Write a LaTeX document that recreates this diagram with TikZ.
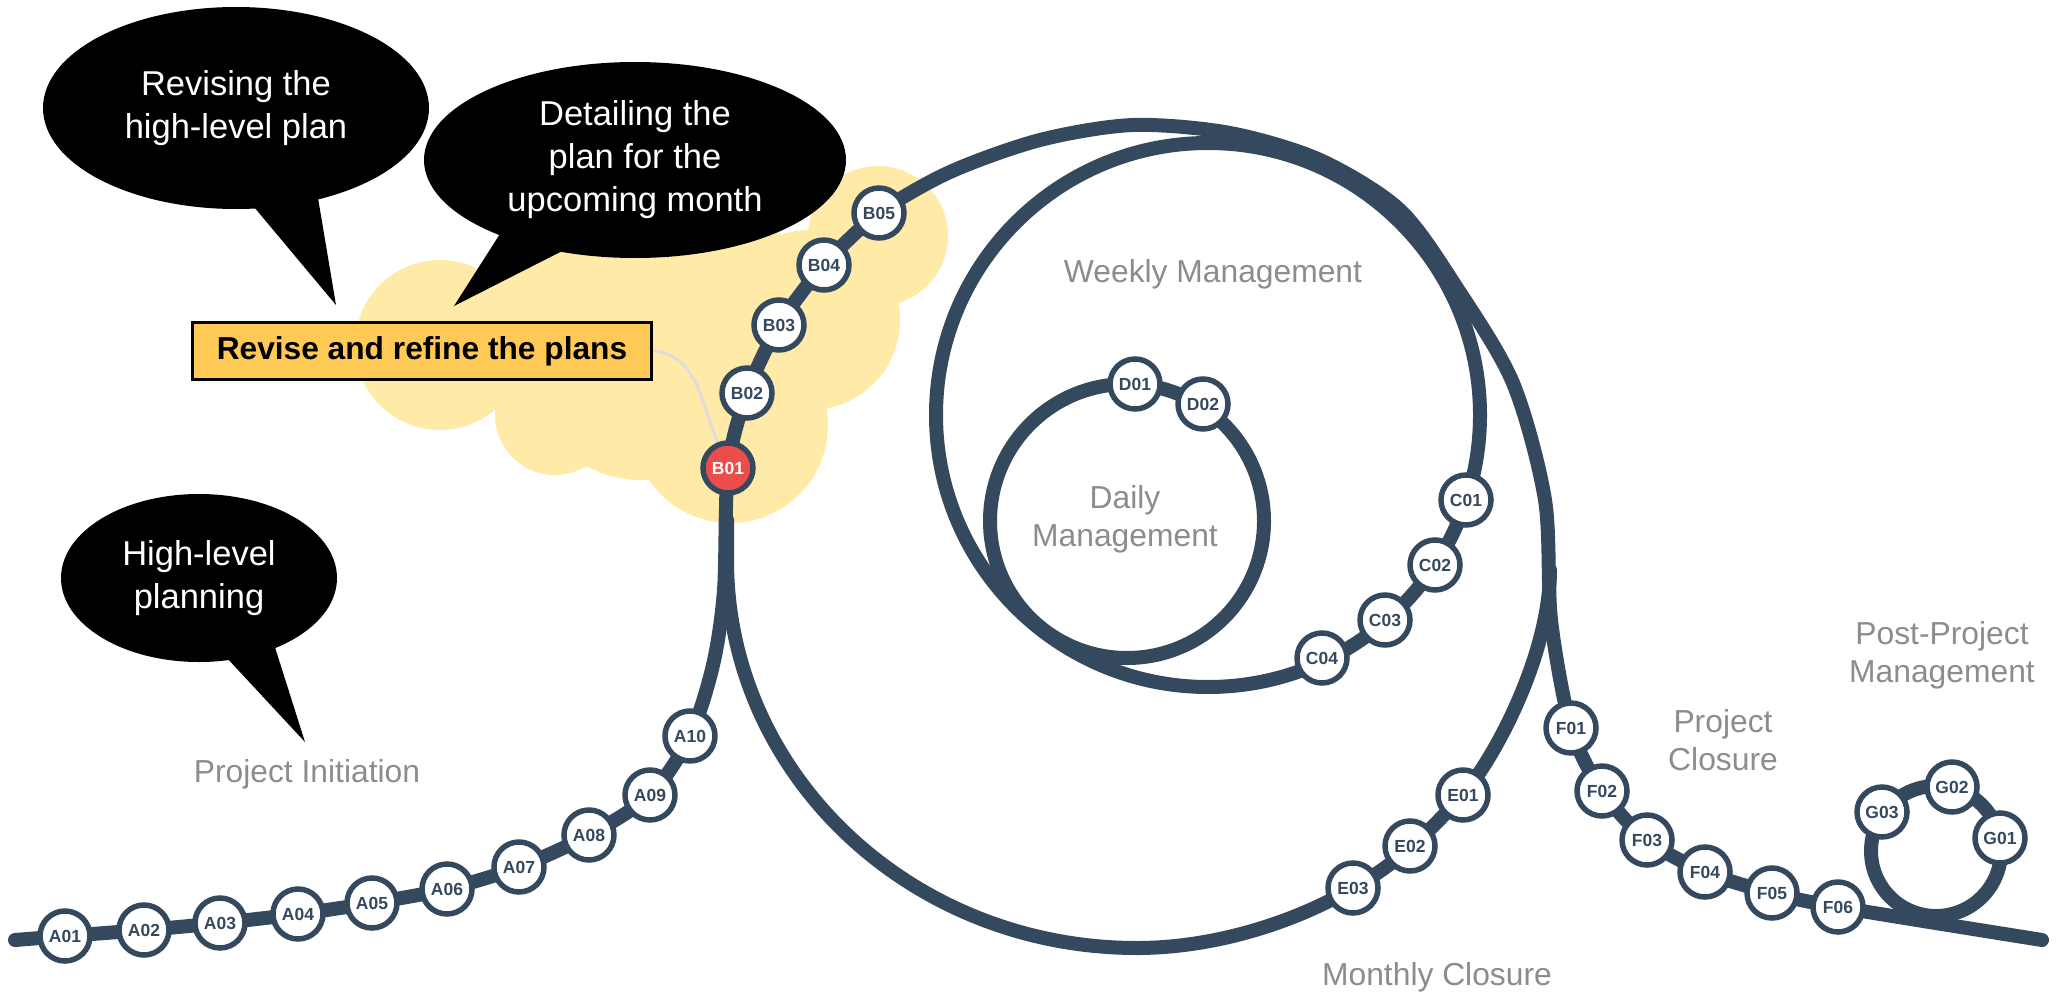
\documentclass[tikz,border=0pt]{standalone}
\usepackage{fontspec}
\setmainfont{Liberation Sans}
\usetikzlibrary{shapes.geometric}
\definecolor{planSlate}{HTML}{34495E}
\definecolor{planRed}{HTML}{EB4D4B}
\definecolor{planSand}{HTML}{FFEAA8}
\definecolor{planGold}{HTML}{FFC955}
\definecolor{planGrey}{HTML}{8C8C8C}
\definecolor{planMist}{HTML}{DDDDDD}
\pgfdeclarelayer{cloudlayer}
\pgfdeclarelayer{tracklayer}
\pgfsetlayers{cloudlayer,tracklayer,main}
\tikzset{
  stn/.style={circle, draw=planSlate, line width=5.5pt, fill=white, minimum size=50pt, inner sep=0pt, text=planSlate, font=\fontsize{17.5}{20}\selectfont\bfseries},
  stnstart/.style={stn, fill=planRed, text=white},
  track/.style={draw=planSlate, line width=14pt, line cap=round, line join=round},
  bubble/.style={ellipse, fill=black, text=white, align=center, inner sep=0pt, font=\fontsize{34.5}{43}\selectfont},
  phase/.style={text=planGrey, align=center, inner sep=0pt, font=\fontsize{31.8}{38}\selectfont},
  taskbox/.style={rectangle, draw=black, line width=3.5pt, fill=planGold, minimum width=459pt, minimum height=57pt, inner sep=0pt, font=\fontsize{31.7}{38}\selectfont\bfseries},
  puff/.style={fill=planSand},
  softline/.style={draw=planMist, line width=3pt}
}

\begin{document}
\begin{tikzpicture}[x=1pt, y=-1pt]
  \useasboundingbox (0,0) rectangle (2056,1001);

  % cloud behind the planning stations
  \begin{pgfonlayer}{cloudlayer}
    \fill[puff] (440,345) circle[radius=85pt];
    \fill[puff] (545,300) circle[radius=65pt];
    \fill[puff] (612,275) circle[radius=42pt];
    \fill[puff] (700,285) circle[radius=95pt];
    \fill[puff] (878,236) circle[radius=70pt];
    \fill[puff] (810,320) circle[radius=90pt];
    \fill[puff] (730,425) circle[radius=98pt];
    \fill[puff] (555,415) circle[radius=60pt];
    \fill[puff] (640,370) circle[radius=110pt];
  \end{pgfonlayer}

  % speech bubbles
  \node[bubble, minimum width=386pt, minimum height=202pt] (reviseBub) at (236,108) {Revising the\\high-level plan};
  \coordinate (reviseTip) at (336,305);
  \fill (244,195) -- (reviseTip) -- (316,186) -- cycle;
  \node[bubble, minimum width=422pt, minimum height=196pt] (detailBub) at (635,160) {Detailing the\\plan for the\\upcoming month};
  \coordinate (detailTip) at (454,306);
  \fill (505,226) -- (detailTip) -- (576,244) -- cycle;
  \node[bubble, minimum width=276pt, minimum height=168pt] (highBub) at (199,578) {High-level\\planning};
  \coordinate (highTip) at (305,742);
  \fill (226,657) -- (highTip) -- (273,641) -- cycle;

  \node[taskbox] (refineBox) at (422,351) {Revise and refine the plans};

  % stations
  \node[stn] (A01) at (65,936) {A01};
  \node[stn] (A02) at (144,930) {A02};
  \node[stn] (A03) at (220,923) {A03};
  \node[stn] (A04) at (298,914) {A04};
  \node[stn] (A05) at (372,903) {A05};
  \node[stn] (A06) at (447,889) {A06};
  \node[stn] (A07) at (519,867) {A07};
  \node[stn] (A08) at (589,835) {A08};
  \node[stn] (A09) at (650,795) {A09};
  \node[stn] (A10) at (690,736) {A10};
  \node[stnstart] (B01) at (728,468) {B01};
  \node[stn] (B02) at (747,393) {B02};
  \node[stn] (B03) at (779,325) {B03};
  \node[stn] (B04) at (824,265) {B04};
  \node[stn] (B05) at (879,213) {B05};
  \node[stn] (C01) at (1466,500) {C01};
  \node[stn] (C02) at (1435,565) {C02};
  \node[stn] (C03) at (1385,620) {C03};
  \node[stn] (C04) at (1322,658) {C04};
  \node[stn] (D01) at (1135,384) {D01};
  \node[stn] (D02) at (1203,404) {D02};
  \node[stn] (E01) at (1463,795) {E01};
  \node[stn] (E02) at (1410,846) {E02};
  \node[stn] (E03) at (1353,888) {E03};
  \node[stn] (F01) at (1571,728) {F01};
  \node[stn] (F02) at (1602,791) {F02};
  \node[stn] (F03) at (1647,840) {F03};
  \node[stn] (F04) at (1705,872) {F04};
  \node[stn] (F05) at (1772,893) {F05};
  \node[stn] (F06) at (1838,907) {F06};
  \node[stn] (G01) at (2000,838) {G01};
  \node[stn] (G02) at (1952,787) {G02};
  \node[stn] (G03) at (1882,812) {G03};

  % phase labels
  \node[phase, anchor=base] (initLbl) at (307,782) {Project Initiation};
  \node[phase, anchor=base] (weekLbl) at (1213,282) {Weekly Management};
  \node[phase] (dayLbl) at (1125,519) {Daily\\Management};
  \node[phase, anchor=base] (monthLbl) at (1437,985) {Monthly Closure};
  \node[phase] (closeLbl) at (1723,740) {Project\\Closure};
  \node[phase] (postLbl) at (1942,655) {Post-Project\\Management};

  \coordinate (trackStart) at (15,940);
  \coordinate (trackEnd) at (2042,940);
  \coordinate (monthSplit) at (1550,570);
  \coordinate (monthLow) at (1137,948);
  \coordinate (monthJoin) at (727,560);
  \coordinate (weekHub) at (1208,415);
  \coordinate (dayHub) at (1127,521);
  \coordinate (postHub) at (1936,851);

  \begin{pgfonlayer}{tracklayer}
    \draw[softline] (refineBox.east) to[out=-5, in=112] (B01);
    \draw[track] plot[smooth] coordinates {(trackStart) (A01.center) (A02.center) (A03.center) (A04.center) (A05.center) (A06.center) (A07.center) (A08.center) (A09.center) (A10.center) (713,665) (724,590) (B01.center) (B02.center) (B03.center) (B04.center) (B05.center) (950,172) (1040,140) (1133,125) (1230,133) (1320,160) (1400,210) (1457,288) (1513,383) (1545,500) (1551,620) (F01.center) (F02.center) (F03.center) (F04.center) (F05.center) (F06.center) (trackEnd)};
    \draw[track] (monthSplit) .. controls (1550,650) and (1500,750) .. (E01.center)
      .. controls (1430,830) and (1400,862) .. (E03.center)
      .. controls (1290,925) and (1210,948) .. (monthLow)
      .. controls (910,948) and (727,774) .. (monthJoin) -- (727,520);
    \draw[track] (weekHub) circle[radius=272pt];
    \draw[track] (dayHub) circle[radius=137pt];
    \draw[track] (postHub) circle[radius=65pt];
  \end{pgfonlayer}
\end{tikzpicture}
\end{document}
